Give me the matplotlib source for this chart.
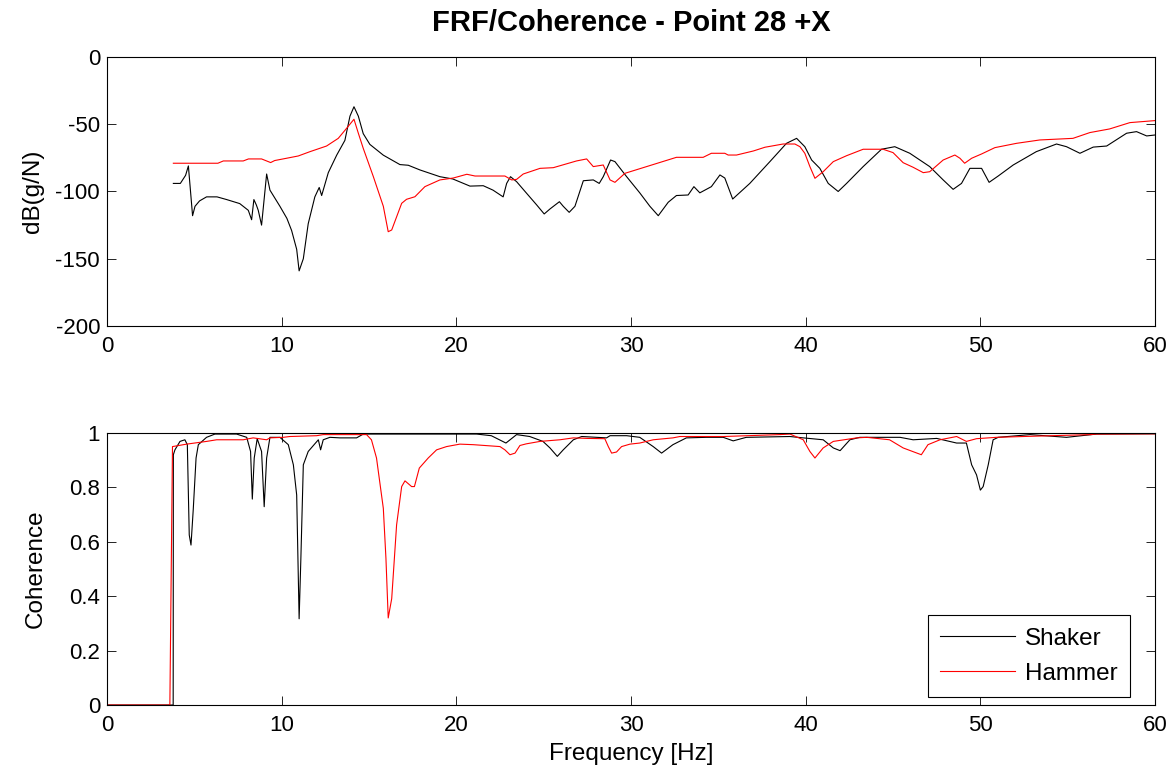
import matplotlib
matplotlib.use("Agg")
import matplotlib.pyplot as plt

plt.rcParams['font.family'] = ['Liberation Sans', 'DejaVu Sans']
plt.rcParams['axes.unicode_minus'] = False

# ---------------- data ----------------
shaker_frf_f = [3.8, 4.2, 4.5, 4.66, 4.9, 5.04, 5.3, 5.7, 6.3, 6.85, 7.6, 8.09, 8.28, 8.41, 8.55, 8.66,
                8.85, 9.14, 9.33, 9.9, 10.3, 10.57, 10.86, 11.0, 11.24, 11.52, 11.9, 12.15, 12.29, 12.67,
                13.15, 13.62, 13.91, 14.14, 14.39, 14.67, 15.05, 15.82, 16.77, 17.25, 17.92, 19.06, 19.8,
                20.78, 21.54, 22.1, 22.68, 22.88, 23.1, 23.45, 24.0, 24.6, 25.03, 25.36, 25.9, 26.12, 26.46,
                26.79, 27.27, 27.84, 28.18, 28.41, 28.83, 29.08, 29.75, 30.5, 31.08, 31.56, 32.13, 32.6,
                33.27, 33.6, 33.94, 34.6, 35.09, 35.37, 35.82, 36.8, 37.95, 38.9, 39.48, 39.95, 40.34,
                40.81, 41.29, 41.86, 42.34, 43.29, 44.34, 45.1, 45.96, 47.1, 47.87, 48.44, 48.92, 49.4,
                50.07, 50.5, 51.02, 51.88, 53.2, 54.36, 54.93, 55.7, 56.46, 57.23, 58.37, 58.94, 59.52, 60.0]
shaker_frf_db = [-94, -94, -88, -81, -118, -111, -107, -104, -104, -106, -109, -114, -121, -106, -110, -114,
                 -125, -87, -99, -111, -120, -129, -143, -159, -150, -124, -104, -97, -103, -86,
                 -73, -62, -44, -37, -44, -57, -65, -73, -80, -80.5, -84, -89, -90.7,
                 -96, -95.7, -99, -104, -94, -89, -92.7, -101, -110, -116.7, -113, -107.6, -111, -115.5,
                 -111, -92, -91.4, -94, -89, -76.6, -77.8, -89, -101, -111, -118, -108, -103,
                 -102.6, -96.4, -101, -96.4, -87.7, -90, -105.6, -94, -77.8, -64.2, -60.5, -66.7, -76.6,
                 -82.8, -94, -100, -94, -81.5, -68.6, -66.7, -71.6, -81.5, -91.4, -98.4, -94, -82.8,
                 -82.8, -93.2, -88.5, -80.3, -70.4, -64.7, -66.7, -71.6, -67, -66.2, -56.7, -55.5, -58.7, -58]

hammer_frf_f = [3.8, 6.35, 6.66, 7.8, 8.1, 8.85, 9.37, 9.6, 10.28, 10.95, 11.62, 12.57, 13.24, 13.72,
                14.14, 14.39, 14.67, 15.25, 15.82, 16.1, 16.3, 16.87, 17.15, 17.63, 18.2, 19.06, 19.82,
                20.6, 21.07, 22.78, 23.17, 23.45, 23.83, 24.79, 25.55, 26.88, 27.46, 27.84, 28.41, 28.8,
                29.08, 29.65, 30.89, 32.6, 34.13, 34.6, 35.37, 35.56, 36.04, 37.0, 37.67, 38.71, 39.38,
                39.67, 39.95, 40.24, 40.53, 41.0, 41.58, 42.34, 43.29, 44.43, 45.0, 45.58, 46.15, 46.73,
                47.1, 47.87, 48.54, 48.83, 49.1, 49.5, 50.07, 50.83, 52.07, 53.4, 55.3, 56.27, 57.4,
                58.56, 60.0]
hammer_frf_db = [-79, -79, -77.3, -77.3, -75.8, -75.8, -78.5, -77, -75.3, -73.6, -70.4, -66.2, -60.5, -53,
                 -46.3, -56.7, -67.9, -89, -111, -129.9, -128.6, -108.8, -105.8, -103.9, -96.4, -91.4, -90,
                 -87.2, -88.5, -88.5, -91.4, -91, -87, -82.8, -82.3, -77.3, -75.8, -81.5, -80.3, -91.4,
                 -93.2, -86.5, -81.5, -74.6, -74.6, -71.6, -71.6, -72.9, -72.9, -69.9, -67.1, -64.7, -64.7,
                 -66.7, -71.6, -81.5, -90.2, -85.3, -77.8, -73.4, -68.6, -68.6, -71.1, -78.6, -82, -86,
                 -85.3, -76.6, -72.9, -75.3, -79, -75.3, -72.1, -67.4, -64.2, -61.7, -60.5, -56.2, -53.5,
                 -48.8, -47.3]

shaker_coh_f = [0, 3.79, 3.8, 3.89, 4.18, 4.46, 4.6, 4.71, 4.81, 4.94, 5.1, 5.23, 5.7, 6.18, 7.42, 8.0,
                8.22, 8.32, 8.43, 8.6, 8.85, 9.0, 9.14, 9.33, 9.9, 10.38, 10.67, 10.86, 11.0, 11.1, 11.24,
                11.52, 12.1, 12.23, 12.38, 12.76, 13.34, 14.29, 14.67, 15.05, 21.16, 22.0, 22.84, 23.45,
                24.2, 24.96, 25.36, 25.78, 26.12, 26.7, 27.18, 28.6, 28.8, 29.75, 30.5, 31.27, 31.75, 32.4,
                33.17, 34.3, 35.28, 35.85, 36.6, 39.1, 39.86, 41.0, 41.58, 41.97, 42.53, 43.1, 45.4,
                46.15, 47.5, 48.64, 49.2, 49.5, 49.78, 50.0, 50.16, 50.45, 50.73, 51.02, 52.85, 54.93,
                56.65, 60.0]
shaker_coh = [0, 0, 0.92, 0.938, 0.969, 0.975, 0.957, 0.625, 0.588, 0.72, 0.908, 0.957, 0.984, 0.996, 0.996, 0.984,
              0.932, 0.757, 0.908, 0.979, 0.932, 0.729, 0.908, 0.984, 0.984, 0.957, 0.883, 0.772, 0.317, 0.539, 0.883,
              0.932, 0.975, 0.938, 0.975, 0.984, 0.982, 0.982, 0.996, 0.996, 0.996, 0.99, 0.963, 0.994,
              0.987, 0.969, 0.945, 0.914, 0.938, 0.975, 0.987, 0.982, 0.99, 0.99, 0.984, 0.95, 0.926, 0.957,
              0.982, 0.984, 0.984, 0.971, 0.984, 0.987, 0.982, 0.975, 0.945, 0.935, 0.975, 0.984, 0.984,
              0.975, 0.98, 0.963, 0.963, 0.883, 0.846, 0.79, 0.803, 0.883, 0.975, 0.984, 0.994, 0.984,
              0.996, 0.997]

hammer_coh_f = [0, 3.6, 3.75, 4.56, 5.7, 6.28, 7.8, 8.37, 9.14, 9.33, 10.09, 10.47, 12.0, 12.38, 14.86,
                15.14, 15.43, 15.82, 15.97, 16.1, 16.3, 16.58, 16.87, 17.06, 17.44, 17.6, 17.88, 18.39,
                18.87, 19.44, 20.2, 20.97, 22.5, 22.78, 23.07, 23.36, 23.64, 24.0, 24.79, 25.93, 26.7,
                27.5, 28.5, 28.7, 28.89, 29.17, 29.46, 29.94, 30.5, 31.27, 32.4, 32.8, 35.3, 38.5, 39.1,
                39.86, 40.24, 40.53, 41.0, 41.58, 42.92, 43.5, 44.8, 45.58, 46.62, 47.0, 47.69, 48.64,
                49.2, 49.78, 50.92, 52.45, 56.3, 56.65, 60.0]
hammer_coh = [0, 0, 0.95, 0.959, 0.969, 0.975, 0.975, 0.982, 0.975, 0.982, 0.984, 0.987, 0.99, 0.994, 0.994,
              0.975, 0.908, 0.723, 0.539, 0.32, 0.391, 0.662, 0.803, 0.824, 0.803, 0.803, 0.871, 0.908,
              0.938, 0.95, 0.959, 0.957, 0.95, 0.938, 0.92, 0.926, 0.954, 0.96, 0.969, 0.975, 0.982,
              0.98, 0.979, 0.95, 0.926, 0.93, 0.95, 0.959, 0.963, 0.975, 0.982, 0.987, 0.987, 0.994, 0.996,
              0.975, 0.932, 0.908, 0.945, 0.969, 0.982, 0.984, 0.975, 0.945, 0.92, 0.957, 0.975, 0.987,
              0.969, 0.979, 0.984, 0.987, 0.994, 0.996, 0.997]

series_labels = ['Shaker', 'Hammer']
x_ticks = [0, 10, 20, 30, 40, 50, 60]
frf_ticks = [0, -50, -100, -150, -200]
coh_ticks = [0, 0.2, 0.4, 0.6, 0.8, 1]

# ---------------- figure ----------------
fig = plt.figure(figsize=(11.73, 7.74), dpi=100)
ax1 = fig.add_axes([0.0912, 0.5788, 0.8935, 0.3476])
ax2 = fig.add_axes([0.0912, 0.0891, 0.8935, 0.3515])

lw = 0.8
ax1.plot(shaker_frf_f, shaker_frf_db, color='black', lw=lw)
ax1.plot(hammer_frf_f, hammer_frf_db, color='red', lw=lw)
ax2.plot(shaker_coh_f, shaker_coh, color='black', lw=lw, label=series_labels[0])
ax2.plot(hammer_coh_f, hammer_coh, color='red', lw=lw, label=series_labels[1])

ax1.set_xlim(0, 60)
ax1.set_ylim(-200, 0)
ax1.set_yticks(frf_ticks)
ax2.set_xlim(0, 60)
ax2.set_ylim(0, 1)
ax2.set_yticks(coh_ticks)
ax2.set_yticklabels(['0', '0.2', '0.4', '0.6', '0.8', '1'])

for ax in (ax1, ax2):
    ax.set_xticks(x_ticks)
    ax.tick_params(direction='in', top=True, right=True, length=6.5, width=0.6,
                   labelsize=16, pad=5)
    ax.tick_params(axis='x', pad=7)
    for s in ax.spines.values():
        s.set_linewidth(0.8)

ax1.set_title('FRF/Coherence - Point 28 +X', fontsize=21, fontweight='bold', pad=19)
ax1.set_ylabel('dB(g/N)', fontsize=17.5, labelpad=8)
ax2.set_ylabel('Coherence', fontsize=17.5, labelpad=16)
ax2.set_xlabel('Frequency [Hz]', fontsize=17.5, labelpad=5)

leg = ax2.legend(loc='lower right', bbox_to_anchor=(0.976, 0.029), borderaxespad=0,
                 fontsize=17.5, fancybox=False, framealpha=1, edgecolor='black',
                 handlelength=3.1, handletextpad=0.4, labelspacing=0.55, borderpad=0.5)
leg.get_frame().set_linewidth(0.8)

fig.savefig('out.png', dpi=100)
